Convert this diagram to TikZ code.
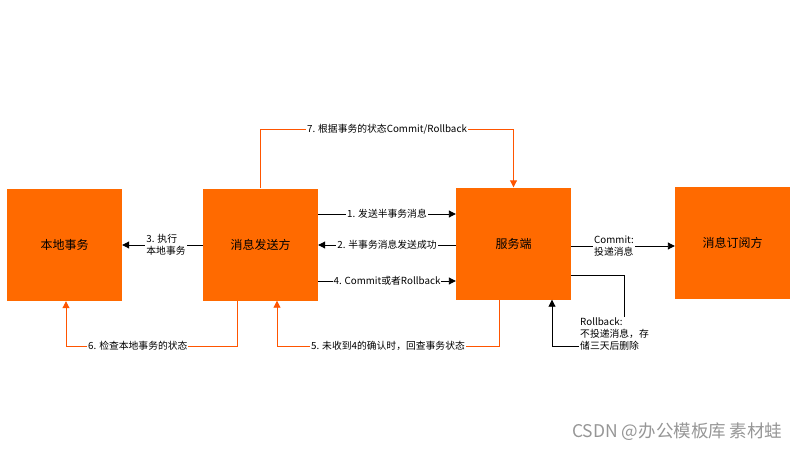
\documentclass[tikz,border=0pt]{standalone}
\usepackage{fontspec}
\setmainfont{Noto Sans CJK SC}
\usetikzlibrary{arrows.meta}
\definecolor{boxorange}{RGB}{255,106,0}
\definecolor{lineorange}{RGB}{255,85,0}
\definecolor{wmgray}{RGB}{150,150,150}
\begin{document}
\begin{tikzpicture}[x=1pt,y=-1pt,
  box/.style={fill=boxorange, draw=none, minimum width=115pt, minimum height=112pt, inner sep=0pt, font=\fontsize{12}{14}\selectfont},
  blk/.style={draw=black, line width=0.9pt, -{Triangle[length=7pt,width=7pt]}},
  org/.style={draw=lineorange, line width=0.9pt, -{Triangle[length=7pt,width=7pt]}},
  lbl/.style={fill=white, inner sep=1pt, font=\fontsize{9.8}{12}\selectfont},
]
\useasboundingbox (0,0) rectangle (800,450);
\node[box] (b1) at (64.5,245) {本地事务};
\node[box] (b2) at (260.5,244.5) {消息发送方};
\node[box] (b3) at (513.5,243.5) {服务端};
\node[box] (b4) at (732.5,243) {消息订阅方};

\draw[blk] (b2.east |- 0,214) -- node[lbl]{1. 发送半事务消息} (b3.west |- 0,214);
\draw[blk] (b3.west |- 0,245) -- node[lbl]{2. 半事务消息发送成功} (b2.east |- 0,245);
\draw[blk] (b2.east |- 0,281) -- node[lbl]{4. Commit或者Rollback} (b3.west |- 0,281);
\draw[blk] (b2.west |- 0,245) -- node[lbl, align=left, xshift=3.5pt]{3. 执行\\本地事务} (b1.east |- 0,245);

\draw[org] (b2.north) |- node[lbl, pos=0.75]{7. 根据事务的状态Commit/Rollback} (b3.north |- 0,129) -- (b3.north);
\draw[org] (b2.south -| 237,0) -- (237,346) -| node[lbl, pos=0.29]{6. 检查本地事务的状态} (b1.south -| 66,0);
\draw[org] (b3.south -| 499,0) -- (499,346) -| node[lbl, pos=0.25]{5. 未收到4的确认时，回查事务状态} (b2.south -| 277,0);

\draw[blk] (b3.east |- 0,246) -- (b4.west |- 0,246);
\node[lbl, anchor=west, align=left] (lc) at (593,246) {Commit:\\投递消息};

\draw[blk] (b3.east |- 0,275) -- (624,275) -- (624,346) -- (552,346) -- (b3.south -| 552,0);
\node[lbl, anchor=west, align=left] (lr) at (579,334) {Rollback:\\不投递消息，存\\储三天后删除};

\node[text=wmgray, anchor=east, font=\fontsize{17.5}{20}\selectfont] (wm) at (786,432) {CSDN @办公模板库 素材蛙};
\end{tikzpicture}
\end{document}
